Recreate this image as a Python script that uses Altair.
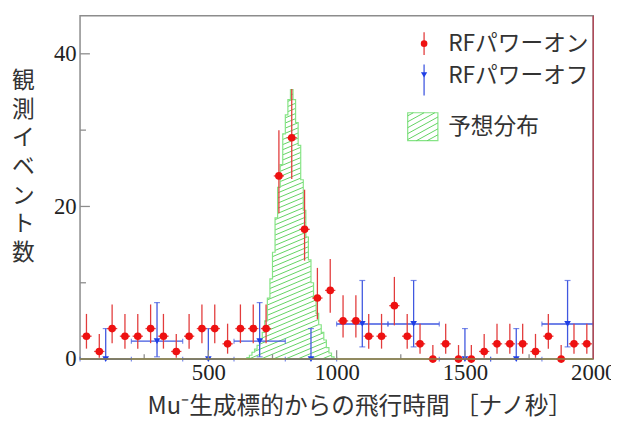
import altair as alt
import pandas as pd

# ---------------- data ----------------
# RF power ON: 50 ns bins, counts
ON_X = [25, 75, 125, 175, 225, 275, 325, 375, 425, 475,
        525, 575, 625, 675, 725, 775, 825, 875, 925, 975,
        1025, 1075, 1125, 1175, 1225, 1275, 1325, 1375, 1425, 1475,
        1525, 1575, 1625, 1675, 1725, 1775, 1825, 1875, 1925, 1975]
ON_N = [3, 1, 4, 3, 3, 4, 3, 1, 3, 4,
        4, 2, 4, 4, 4, 24, 29, 17, 8, 9,
        5, 5, 3, 3, 7, 3, 2, 0, 2, 0,
        0, 1, 2, 2, 2, 1, 3, 0, 2, 2]
# Poisson (68%) interval table used for the ON error bars
POISSON_LO = {0: 0.0, 1: 0.17, 2: 0.71, 3: 1.37, 4: 2.09, 5: 2.84, 7: 4.42,
              8: 5.23, 9: 6.06, 17: 12.9, 24: 19.1, 29: 23.6}
POISSON_HI = {0: 1.84, 1: 3.30, 2: 4.64, 3: 5.92, 4: 7.16, 5: 8.38, 7: 10.77,
              8: 11.95, 9: 13.11, 17: 22.2, 24: 30.0, 29: 35.4}
ON_XERR = 20

# RF power OFF: 200 ns bins (scaled)
OFF_X = [100, 300, 500, 700, 900, 1100, 1300, 1500, 1700, 1900]
OFF_Y = [0, 2.35, 0, 2.35, 0, 4.6, 4.6, 0, 0, 4.6]
OFF_LO = [0, 0.3, 0, 0.3, 0, 1.6, 1.6, 0, 0, 1.6]
OFF_HI = [4.0, 7.4, 4.0, 7.4, 4.0, 10.3, 10.3, 4.0, 4.0, 10.3]
OFF_XERR = 100

# expected distribution: 10 ns bins starting at 650 ns
HIST_LEFT = [650, 660, 670, 680, 690, 700, 710, 720, 730, 740,
             750, 760, 770, 780, 790, 800, 810, 820, 830, 840,
             850, 860, 870, 880, 890, 900, 910, 920, 930, 940,
             950, 960, 970, 980]
HIST_H = [0.2, 0.5, 0.9, 1.3, 1.8, 2.6, 3.5, 5.0, 8.0, 10.5,
          14.0, 18.5, 22.5, 25.5, 29.5, 32.0, 34.0, 35.3, 34.0, 31.0,
          28.0, 23.5, 19.5, 16.0, 13.0, 10.0, 8.0, 6.0, 4.5, 3.5,
          2.5, 1.5, 0.8, 0.3]
HIST_BW = 10

Y_MAJOR = [0, 20, 40]
Y_MINOR = [10, 30]
X_MAJOR = [500, 1000, 1500]
X_MINOR = [250, 750, 1250, 1750]
X_LABELS = [500, 1000, 1500, 2000]

LEGEND = ["RFパワーオン", "RFパワーオフ", "予想分布"]
X_TITLE = "Mu⁻生成標的からの飛行時間 ［ナノ秒］"
Y_TITLE = ["観", "測", "イ", "ベ", "ン", "ト", "数"]

# ---------------- style ----------------
W, H = 520, 348
XMAX, YMAX = 2000, 45
RED, RED_LINE = "#ee1111", "#e23c3c"
BLUE, BLUE_LINE = "#1f3fe6", "#4058e0"
GREEN_EDGE, GREEN_HATCH = "#86e486", "#62d262"
FRAME = "#8c8c8c"
CJK = "Noto Sans CJK JP"
SERIF = "Liberation Serif"

xs = alt.Scale(domain=[0, XMAX], nice=False, zero=False)
ys = alt.Scale(domain=[0, YMAX], nice=False, zero=False)

AX_COMMON = dict(format="d", ticks=False, tickSize=0, domain=False, grid=False,
                 labelFont=SERIF, labelFontSize=23, labelColor="#222", labelFlush=False,
                 titleFont=CJK, titleFontWeight="normal",
                 titleColor="#333", titleAlign="center", titleBaseline="middle")
XAX = alt.Axis(values=X_LABELS, labelPadding=3, title=X_TITLE, titleX=283, titleY=48,
               titleFontSize=24, **AX_COMMON)
YAX = alt.Axis(values=Y_MAJOR, labelPadding=4, title=Y_TITLE, titleAngle=0,
               titleX=-58, titleY=66, titleLineHeight=29, titleFontSize=23, **AX_COMMON)


def X(f):
    return alt.X(f, type="quantitative", scale=xs, axis=XAX)


def Y(f):
    return alt.Y(f, type="quantitative", scale=ys, axis=YAX)


# ---------------- tables ----------------
on = pd.DataFrame({"x": ON_X, "n": ON_N})
on["lo"] = [POISSON_LO[v] for v in ON_N]
on["hi"] = [POISSON_HI[v] for v in ON_N]
on["xl"] = on["x"] - ON_XERR
on["xr"] = on["x"] + ON_XERR

off = pd.DataFrame({"x": OFF_X, "y": OFF_Y, "lo": OFF_LO, "hi": OFF_HI})
off["xl"] = off["x"] - OFF_XERR
off["xr"] = off["x"] + OFF_XERR

# outline of the step histogram
ox = [HIST_LEFT[0]] + HIST_LEFT + [HIST_LEFT[-1] + HIST_BW]
oy = [0] + HIST_H + [0]
outline = pd.DataFrame({"x": ox, "y": oy, "i": list(range(len(ox)))})

# hatch segments, clipped to the histogram bins (computed in pixel space, drawn in data space)
SX, SY = W / XMAX, H / YMAX
K, GAP = 0.42, 5.2


def hatch(boxes, k, gap):
    """boxes: list of (x0, x1, top) in px (y up from 0). Returns merged segments."""
    xmin = min(b[0] for b in boxes)
    xmax = max(b[1] for b in boxes)
    top = max(b[2] for b in boxes)
    segs = []
    c = -k * (xmax - xmin)
    while c < top:
        cur = None
        for x0, x1, t in boxes:
            a = max(x0, xmin + (0 - c) / k)
            b = min(x1, xmin + (t - c) / k)
            if b - a > 1e-6:
                if cur is not None and abs(cur[1] - a) < 1e-6:
                    cur[1] = b
                else:
                    if cur is not None:
                        segs.append(cur)
                    cur = [a, b, c]
            else:
                if cur is not None:
                    segs.append(cur)
                    cur = None
        if cur is not None:
            segs.append(cur)
        c += gap
    return [(a, k * (a - xmin) + cc, b, k * (b - xmin) + cc) for a, b, cc in segs]


boxes = [(l * SX, (l + HIST_BW) * SX, h * SY) for l, h in zip(HIST_LEFT, HIST_H)]
hs = hatch(boxes, K, GAP)
hatch_df = pd.DataFrame({"x": [s[0] / SX for s in hs], "y": [s[1] / SY for s in hs],
                         "x2": [s[2] / SX for s in hs], "y2": [s[3] / SY for s in hs]})

# ---------------- layers ----------------
hist_hatch = alt.Chart(hatch_df).mark_rule(color=GREEN_HATCH, strokeWidth=1).encode(
    x=X("x"), y=Y("y"), x2="x2", y2="y2")
hist_line = alt.Chart(outline).mark_line(color=GREEN_EDGE, strokeWidth=1.2,
                                         interpolate="step-after").encode(
    x=X("x"), y=Y("y"), order="i:Q")

off_v = alt.Chart(off).mark_rule(color=BLUE_LINE, strokeWidth=1.3).encode(
    x=X("x"), y=Y("lo"), y2="hi")
off_h = alt.Chart(off).mark_rule(color=BLUE_LINE, strokeWidth=1.3).encode(
    x=X("xl"), x2="xr", y=Y("y"))
off_cap_hi = alt.Chart(off).mark_tick(color=BLUE_LINE, orient="horizontal", size=6,
                                      thickness=1.2).encode(x=X("x"), y=Y("hi"))
off_cap_lo = alt.Chart(off).mark_tick(color=BLUE_LINE, orient="horizontal", size=6,
                                      thickness=1.2).encode(x=X("x"), y=Y("lo"))
off_cap_l = alt.Chart(off).mark_tick(color=BLUE_LINE, orient="vertical", size=5,
                                     thickness=1.2).encode(x=X("xl"), y=Y("y"))
off_cap_r = alt.Chart(off).mark_tick(color=BLUE_LINE, orient="vertical", size=5,
                                     thickness=1.2).encode(x=X("xr"), y=Y("y"))
off_pt = alt.Chart(off).mark_point(shape="triangle-down", filled=True, color=BLUE,
                                   size=45, opacity=1).encode(x=X("x"), y=Y("y"))

on_v = alt.Chart(on).mark_rule(color=RED_LINE, strokeWidth=1.3).encode(
    x=X("x"), y=Y("lo"), y2="hi")
on_h = alt.Chart(on).mark_rule(color=RED_LINE, strokeWidth=1.3).encode(
    x=X("xl"), x2="xr", y=Y("n"))
on_pt = alt.Chart(on).mark_circle(color=RED, size=60, opacity=1).encode(
    x=X("x"), y=Y("n"))

# ticks (inside the frame) and frame edges
tk_ym = alt.Chart(pd.DataFrame({"v": Y_MAJOR})).mark_rule(color=FRAME, strokeWidth=1.3).encode(
    y=Y("v"), x=alt.value(0), x2=alt.value(10))
tk_yn = alt.Chart(pd.DataFrame({"v": Y_MINOR})).mark_rule(color=FRAME, strokeWidth=1.3).encode(
    y=Y("v"), x=alt.value(0), x2=alt.value(6))
tk_xm = alt.Chart(pd.DataFrame({"v": X_MAJOR})).mark_rule(color=FRAME, strokeWidth=1.3).encode(
    x=X("v"), y=alt.value(H), y2=alt.value(H - 9))
tk_xn = alt.Chart(pd.DataFrame({"v": X_MINOR})).mark_rule(color=FRAME, strokeWidth=1.3).encode(
    x=X("v"), y=alt.value(H), y2=alt.value(H - 5))
edge_r = alt.Chart(pd.DataFrame({"v": [XMAX]})).mark_rule(color="#b04858", strokeWidth=1.5).encode(
    x=X("v"), y=alt.value(0), y2=alt.value(H))
edge_b = alt.Chart(pd.DataFrame({"v": [0]})).mark_rule(color="#8a8048", strokeWidth=1.5).encode(
    y=Y("v"), x=alt.value(0), x2=alt.value(W))

# ---------------- legend ----------------
LX_SYM, LX_TXT = 348.6, 373
LY = [28.4, 61.0, 112.5]
one = pd.DataFrame({"a": [0]})
leg = []
leg.append(alt.Chart(one).mark_rule(color=RED_LINE, strokeWidth=1.3).encode(
    x=alt.value(LX_SYM), y=alt.value(LY[0] - 11.5), y2=alt.value(LY[0] + 11.5)))
leg.append(alt.Chart(one).mark_circle(color=RED, size=45, opacity=1).encode(
    x=alt.value(LX_SYM), y=alt.value(LY[0])))
leg.append(alt.Chart(one).mark_rule(color=BLUE_LINE, strokeWidth=1.3).encode(
    x=alt.value(LX_SYM), y=alt.value(LY[1] - 11.5), y2=alt.value(LY[1] + 20)))
leg.append(alt.Chart(one).mark_point(shape="triangle-down", filled=True, color=BLUE,
                                     size=40, opacity=1).encode(
    x=alt.value(LX_SYM), y=alt.value(LY[1] - 1)))
BOX = (332, 362.6, 98.4, 126.7)
leg.append(alt.Chart(one).mark_rect(fill="white", stroke=GREEN_EDGE, strokeWidth=1.2).encode(
    x=alt.value(BOX[0]), x2=alt.value(BOX[1]), y=alt.value(BOX[2]), y2=alt.value(BOX[3])))
lh = hatch([(BOX[0], BOX[1], BOX[3] - BOX[2])], 0.55, 6.0)
lh_df = pd.DataFrame({"x": [s[0] for s in lh], "y": [BOX[3] - s[1] for s in lh],
                      "x2": [s[2] for s in lh], "y2": [BOX[3] - s[3] for s in lh]})
leg.append(alt.Chart(lh_df).mark_rule(color=GREEN_HATCH, strokeWidth=1).encode(
    x=alt.X("x:Q", scale=None), y=alt.Y("y:Q", scale=None),
    x2="x2:Q", y2="y2:Q"))
for lab, yy in zip(LEGEND, LY):
    leg.append(alt.Chart(pd.DataFrame({"t": [lab]})).mark_text(
        font=CJK, fontSize=23, color="#333", align="left", baseline="middle").encode(
        x=alt.value(LX_TXT), y=alt.value(yy), text="t:N"))

chart = alt.layer(
    hist_hatch, hist_line,
    off_h, off_v, off_cap_hi, off_cap_lo, off_cap_l, off_cap_r, off_pt,
    on_h, on_v, on_pt,
    tk_ym, tk_yn, tk_xm, tk_xn, edge_r, edge_b,
    *leg
).properties(
    width=W, height=H,
    padding={"left": 73, "top": 5, "right": 18, "bottom": 62},
    autosize=alt.AutoSizeParams(type="none"),
).configure(
    background="white",
    view=alt.ViewConfig(stroke=FRAME, strokeWidth=1.5),
)

chart.save("out.html", embed_options={"renderer": "svg", "actions": False})
